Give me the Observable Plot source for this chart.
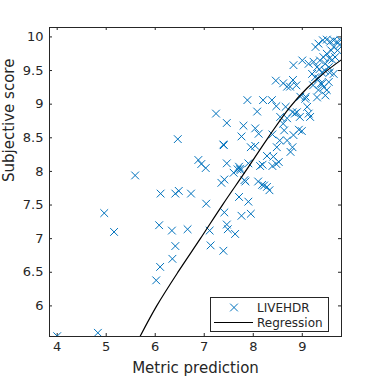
<!DOCTYPE html>
<html>
<head>
<meta charset="utf-8">
<script src="https://cdn.jsdelivr.net/npm/d3@7"></script>
<script src="https://cdn.jsdelivr.net/npm/@observablehq/plot@0.6"></script>
<style>
  html, body { margin: 0; padding: 0; background: #fff; }
  #chart { position: relative; width: 378px; height: 378px; }
</style>
</head>
<body>
<div id="chart"></div>
<script>
// LIVEHDR samples: [metric prediction, subjective score]
const samples = [
  [4.00,5.55],[4.83,5.60],[4.96,7.38],[5.16,7.10],[5.59,7.94],[6.46,8.48],[6.11,7.67],[6.41,7.67],
  [6.48,7.71],[6.73,7.67],[6.08,7.20],[6.34,7.12],[6.66,7.14],[6.41,6.89],[6.35,6.70],[6.10,6.58],
  [6.02,6.38],[7.04,7.52],[7.11,7.12],[7.13,6.90],[7.39,6.82],[7.24,8.86],[7.46,8.72],[7.39,8.40],
  [7.40,8.39],[6.88,8.17],[6.94,8.11],[7.03,8.05],[7.46,8.12],[7.35,7.83],[7.41,7.88],[7.41,7.39],
  [7.46,7.21],[7.48,7.14],[7.63,7.07],[7.71,7.62],[7.76,7.34],[7.95,7.37],[7.90,7.55],[7.88,9.06],
  [7.80,8.68],[7.76,8.52],[8.08,8.89],[7.60,7.98],[7.71,8.07],[7.73,8.04],[7.68,8.03],[7.74,8.02],
  [7.82,7.87],[7.84,7.85],[7.90,8.12],[7.95,8.36],[8.04,8.38],[8.04,8.64],[8.11,8.56],[8.20,9.06],
  [8.14,8.08],[8.19,8.10],[8.10,7.85],[8.18,7.80],[8.22,7.79],[8.28,7.77],[8.33,7.72],[8.28,8.23],
  [8.38,9.06],[8.46,9.35],[8.47,8.97],[8.39,8.55],[8.41,8.22],[8.39,8.08],[8.47,8.11],[8.52,8.14],
  [8.48,8.36],[8.54,8.46],[8.55,8.81],[8.61,9.31],[8.69,9.26],[8.76,8.29],[8.80,8.36],[8.69,8.46],
  [8.63,8.61],[8.69,8.79],[8.61,8.71],[8.66,8.96],[8.80,8.88],[8.85,8.86],[8.89,8.88],[8.81,9.36],
  [8.82,9.58],[8.88,9.28],[8.75,9.26],[8.96,9.11],[8.95,8.81],[8.93,8.62],[8.99,8.60],[8.82,8.54],
  [9.00,9.65],[9.07,9.11],[9.10,8.96],[9.13,8.86],[9.16,8.81],[9.06,9.08],[9.22,9.28],[9.26,9.40],
  [9.30,9.10],[9.33,9.21],[9.38,9.31],[9.44,9.25],[9.47,9.13],[9.50,9.21],[9.13,9.60],[9.23,9.63],
  [9.30,9.55],[9.35,9.52],[9.27,9.85],[9.33,9.90],[9.42,9.95],[9.50,9.96],[9.57,9.93],[9.64,9.95],
  [9.71,9.93],[9.78,9.95],[9.59,9.80],[9.64,9.85],[9.50,9.75],[9.43,9.70],[9.55,9.68],[9.61,9.66],
  [9.67,9.70],[9.36,9.65],[9.46,9.50],[9.56,9.47],[9.64,9.45],[9.40,9.47],[9.54,9.55],[9.47,9.60],
  [9.33,9.38],[9.40,9.30],[9.54,9.33],[9.72,9.80],[9.76,9.88],[9.20,9.45]
];
// Regression curve
const regX = [5.69, 6.03, 6.48, 6.92, 7.38, 7.84, 8.30, 8.74, 9.10, 9.47, 9.80];
const regY = [5.545, 6.00, 6.52, 7.00, 7.51, 8.00, 8.50, 8.95, 9.24, 9.48, 9.66];
const xTicks = [4, 5, 6, 7, 8, 9];
const yTicks = [6, 6.5, 7, 7.5, 8, 8.5, 9, 9.5, 10];
const xDomain = [3.843, 9.80];
const yDomain = [5.545, 10.14];
const seriesName = "LIVEHDR";
const regName = "Regression";
const xLabel = "Metric prediction";
const yLabel = "Subjective score";

const blue = "#0072BD";
const ink = "#262626";
const reg = regX.map((x, i) => ({x, y: regY[i]}));
const fmt = d => String(d);
const W = 378, H = 378, mL = 49, mR = 37, mT = 27, mB = 42;
const innerW = W - mL - mR, innerH = H - mT - mB, tl = 3;

const svg = Plot.plot({
  width: W, height: H,
  marginLeft: mL, marginRight: mR, marginTop: mT, marginBottom: mB,
  style: {fontFamily: "DejaVu Sans", fontSize: "13px", color: ink, background: "#fff"},
  x: {domain: xDomain},
  y: {domain: yDomain},
  marks: [
    Plot.axisX(xTicks, {tickSize: 0, tickPadding: 5, tickFormat: fmt, label: null, fill: ink, fontSize: 13}),
    Plot.axisY(yTicks, {tickSize: 0, tickPadding: 6, tickFormat: fmt, label: null, fill: ink, fontSize: 13}),
    Plot.ruleX(xTicks, {x: d => d, insetTop: innerH - tl, stroke: ink, strokeWidth: 1}),
    Plot.ruleX(xTicks, {x: d => d, insetBottom: innerH - tl, stroke: ink, strokeWidth: 1}),
    Plot.ruleY(yTicks, {y: d => d, insetRight: innerW - tl, stroke: ink, strokeWidth: 1}),
    Plot.ruleY(yTicks, {y: d => d, insetLeft: innerW - tl, stroke: ink, strokeWidth: 1}),
    Plot.dot(samples, {x: d => d[0], y: d => d[1], symbol: "times", r: 3.6, stroke: blue, strokeWidth: 1, clip: true}),
    Plot.line(reg, {x: "x", y: "y", stroke: "#000", strokeWidth: 1.2, curve: "catmull-rom", clip: true}),
    Plot.frame({stroke: ink, strokeWidth: 1}),
    Plot.text([xLabel], {frameAnchor: "bottom", dy: 32, lineAnchor: "middle", fontSize: 15, fill: ink}),
    Plot.text([yLabel], {frameAnchor: "left", dx: -40, rotate: -90, lineAnchor: "middle", fontSize: 15, fill: ink})
  ]
});

// legend box (inside the axes, bottom right)
const s = d3.select(svg);
const g = s.append("g").attr("font-family", "DejaVu Sans").attr("font-size", 12).attr("text-anchor", "start");
g.append("rect").attr("x", 210.5).attr("y", 297.5).attr("width", 118).attr("height", 34)
  .attr("fill", "#fff").attr("stroke", ink).attr("stroke-width", 1);
g.append("path").attr("d", d3.symbol(d3.symbolTimes, Math.PI * 3.6 * 3.6)()).attr("transform", "translate(234,307.5)")
  .attr("stroke", blue).attr("fill", "none").attr("stroke-width", 1);
g.append("text").attr("x", 257).attr("y", 307.5).attr("dy", "0.35em").attr("fill", ink).text(seriesName);
g.append("line").attr("x1", 214).attr("x2", 253).attr("y1", 322.5).attr("y2", 322.5).attr("stroke", "#000").attr("stroke-width", 1);
g.append("text").attr("x", 257).attr("y", 322.5).attr("dy", "0.35em").attr("fill", ink).text(regName);

document.getElementById("chart").appendChild(svg);
</script>
</body>
</html>
